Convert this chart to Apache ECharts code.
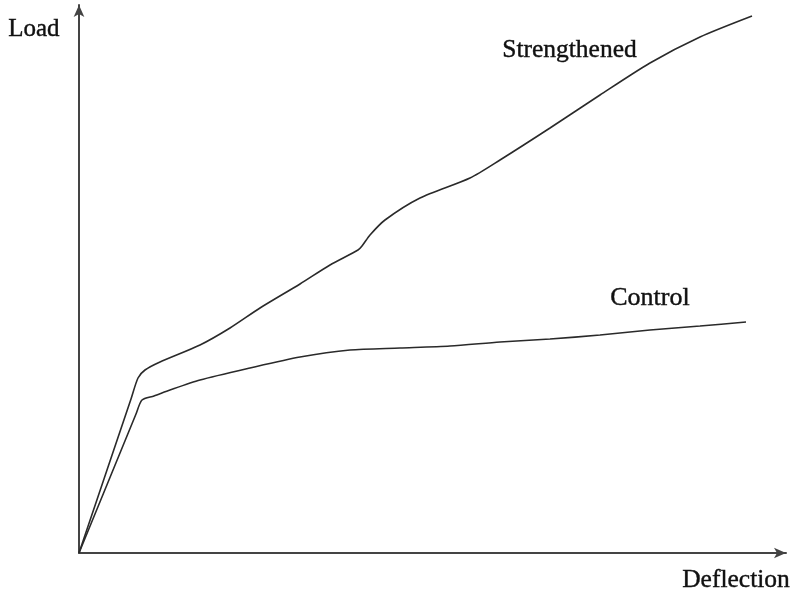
<!DOCTYPE html>
<html><head><meta charset="utf-8">
<script src="https://cdn.jsdelivr.net/npm/echarts@6/dist/echarts.min.js"></script>
<style>html,body{margin:0;padding:0;background:#fff}#c{width:793px;height:594px}</style>
</head><body><div id="c"></div>
<script>
// Deflection (x) and Load (y) in arbitrary units
const strengthenedX = [0, 52, 59, 66, 81, 121, 151, 181, 221, 251, 279, 283, 291, 306, 341, 391, 421, 471, 521, 571, 621, 673];
const strengthenedY = [0, 154, 175, 183, 191, 208, 225, 245, 269, 288, 303, 307, 318, 333, 355, 375, 393, 425, 458, 490, 516, 537];
const controlX = [0, 57, 63, 75, 91, 121, 171, 221, 271, 321, 371, 421, 471, 521, 571, 621, 667];
const controlY = [0, 139, 153, 157, 163, 173, 185, 196, 203, 205, 207, 211, 214, 218, 223, 227, 231];

const chart = echarts.init(document.getElementById('c'));
const font = "'Liberation Serif', 'DejaVu Serif', serif";
const lineStyle = {color: '#2a2a2a', width: 1.6};
chart.setOption({
  animation: false,
  grid: {left: 79, top: 5, width: 707, height: 548},
  xAxis: {type: 'value', min: 0, max: 707,
    axisLine: {show: true, symbol: ['none', 'arrow'], symbolSize: [8, 12], lineStyle: {color: '#444', width: 2}},
    axisTick: {show: false}, axisLabel: {show: false}, splitLine: {show: false}},
  yAxis: {type: 'value', min: 0, max: 548,
    axisLine: {show: true, symbol: ['none', 'arrow'], symbolSize: [8, 12], lineStyle: {color: '#444', width: 2}},
    axisTick: {show: false}, axisLabel: {show: false}, splitLine: {show: false}},
  series: [
    {type: 'line', name: 'Strengthened', smooth: 0.25, showSymbol: false, lineStyle,
      data: strengthenedX.map((x, i) => [x, strengthenedY[i]])},
    {type: 'line', name: 'Control', smooth: 0.25, showSymbol: false, lineStyle,
      data: controlX.map((x, i) => [x, controlY[i]])}
  ],
  graphic: [
    {type: 'text', left: 8, top: 17, style: {text: 'Load', font: '25px ' + font, fill: '#111', stroke: '#111', lineWidth: 0.4}},
    {type: 'text', left: 502, top: 37, style: {text: 'Strengthened', font: '25.5px ' + font, fill: '#111', stroke: '#111', lineWidth: 0.4}},
    {type: 'text', left: 610, top: 285, style: {text: 'Control', font: '26px ' + font, fill: '#111', stroke: '#111', lineWidth: 0.4}},
    {type: 'text', left: 682, top: 567, style: {text: 'Deflection', font: '25.5px ' + font, fill: '#111', stroke: '#111', lineWidth: 0.4}}
  ]
});
</script></body></html>
